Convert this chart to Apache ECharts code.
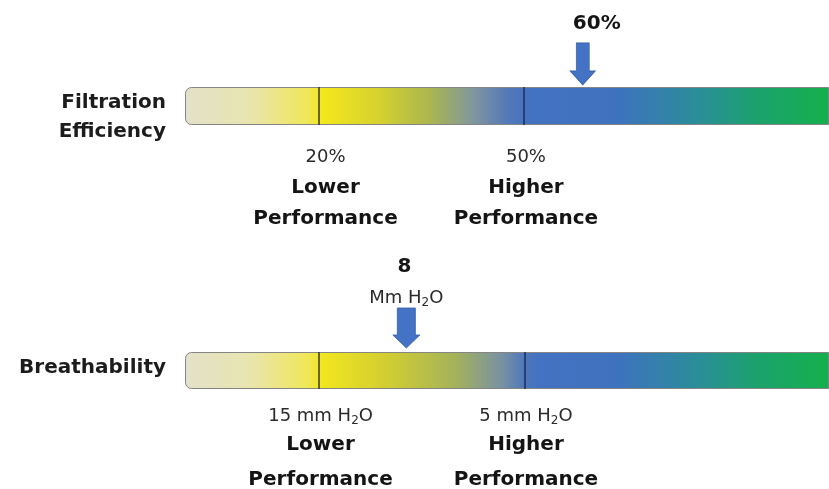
<!DOCTYPE html>
<html>
<head>
<meta charset="utf-8">
<script src="https://cdn.jsdelivr.net/npm/echarts@6/dist/echarts.min.js"></script>
<style>
html,body{margin:0;padding:0;background:#fff;}
#chart{width:829px;height:489px;}
</style>
</head>
<body>
<div id="chart"></div>
<script>
// ---- data (positions on a 0-100 scale along each bar) ----
const barNames = ['Filtration\nEfficiency', 'Breathability'];
const barLength = [100, 100];
const thresholdPos = [[20.74, 52.63], [20.74, 52.79]];
const thresholdValues = [['20%', '50%'], ['15 mm H_2O', '5 mm H_2O']];
const ratingLabels = ['Lower\nPerformance', 'Higher\nPerformance'];
const markerPos = [61.76, 34.37];
const markerValues = ['60%', '8'];
const markerUnits = ['', 'Mm H_2O'];

// ---- styling ----
const FONT = 'DejaVu Sans';
const gridTops = [87, 352];
const gridHeights = [38, 37];
const stopsList = [
  [[0,'#e3e1ca'],[0.10,'#e9e5b0'],[0.19,'#f0e758'],[0.213,'#f4e71c'],[0.30,'#d6d22e'],[0.38,'#abb64e'],[0.45,'#7f95a0'],[0.50,'#5579b8'],[0.53,'#4472c2'],[0.67,'#3e72bf'],[0.80,'#2a8e98'],[0.89,'#1ba26c'],[1,'#14b04c']],
  [[0,'#e3e1ca'],[0.10,'#e9e5b0'],[0.19,'#f0e758'],[0.213,'#f2e61e'],[0.32,'#cfcc34'],[0.42,'#a4b25a'],[0.49,'#7a92a2'],[0.53,'#4b76bc'],[0.55,'#4472c2'],[0.67,'#3e72bf'],[0.80,'#2a8e98'],[0.89,'#1ba26c'],[1,'#14b04c']]
];
const colDx = [[7, 2], [2, 1]];
const valueDy = [51, 45.5];
const ratingDy = [[82, 113], [74.5, 109.5]];
const arrowPaths = [
  'path://M6,0 L19,0 L19,28 L25,28 L12.5,42 L0,28 L6,28 Z',
  'path://M4.5,0 L22.5,0 L22.5,27 L27,27 L13.5,40 L0,27 L4.5,27 Z'
];
const arrowSizes = [[25, 42], [27, 40]];
const arrowOffsetY = [-42, -42.5];
const markerValueOff = [[14, -82], [-2, -103.5]];
const markerUnitOff = [[0, 0], [0, -72]];

const chart = echarts.init(document.getElementById('chart'), null, {renderer: 'canvas'});

// turn "H_2O" into rich text with a lowered, smaller "2"
function richText(txt) {
  return txt.split('_').map((part, k) => k === 0 ? '{n|' + part + '}' :
    '{s|' + part.charAt(0) + '}{n|' + part.slice(1) + '}').join('');
}

const grids = [], xAxes = [], yAxes = [], series = [];
barNames.forEach((name, i) => {
  grids.push({left: 185, width: 646, top: gridTops[i], height: gridHeights[i]});
  xAxes.push({type: 'value', gridIndex: i, min: 0, max: 100, show: false});
  yAxes.push({
    type: 'category', gridIndex: i, data: [name],
    axisLine: {show: false}, axisTick: {show: false}, splitLine: {show: false},
    axisLabel: {
      margin: 19,
      formatter: v => i === 0
        ? '{p| }\n' + v.split('\n').map(w => '{t|' + w + '}').join('\n')
        : v.split('\n').map(w => '{t|' + w + '}').join('\n') + '\n{q| }',
      rich: {
        t: {fontFamily: FONT, fontSize: 20, fontWeight: 'bold', color: '#1c1c1c', lineHeight: 29, align: 'right'},
        p: {fontSize: 10, lineHeight: 23},
        q: {fontSize: 4, lineHeight: 6}
      }
    }
  });
  series.push({
    type: 'bar', xAxisIndex: i, yAxisIndex: i, barWidth: '100%', silent: true,
    data: [barLength[i]],
    itemStyle: {
      color: new echarts.graphic.LinearGradient(0, 0, 1, 0,
        stopsList[i].map(s => ({offset: s[0], color: s[1]}))),
      borderColor: '#858585', borderWidth: 1, borderRadius: [6, 0, 0, 6], opacity: 1
    },
    markLine: {
      silent: true, symbol: ['none', 'none'], label: {show: false},
      lineStyle: {width: 1.5, type: 'solid'},
      data: thresholdPos[i].map((p, j) => ({
        xAxis: p, lineStyle: {color: j ? '#1e2c56' : '#3a392c', width: 1.5, type: 'solid', opacity: 1}
      }))
    }
  });
  series.push({
    type: 'scatter', xAxisIndex: i, yAxisIndex: i, clip: false, silent: true,
    symbol: arrowPaths[i], symbolSize: arrowSizes[i], symbolOffset: [0, arrowOffsetY[i]],
    itemStyle: {color: '#4472c4', borderColor: '#3560aa', borderWidth: 0.8, opacity: 1},
    data: [[markerPos[i], name]]
  });
  const texts = [];
  const mk = (x, txt, off, bold, size) => ({
    value: [x, name],
    label: {
      show: true, position: 'inside', offset: off, formatter: richText(txt),
      rich: {
        n: {fontFamily: FONT, fontSize: size, fontWeight: bold ? 'bold' : 'normal',
            color: bold ? '#141414' : '#2a2a2a', lineHeight: 24},
        s: {fontFamily: FONT, fontSize: Math.round(size * 0.68), color: '#2a2a2a',
            padding: [9, 0, 0, 0], lineHeight: 24}
      }
    }
  });
  thresholdPos[i].forEach((p, j) => {
    texts.push(mk(p, thresholdValues[i][j], [colDx[i][j], valueDy[i]], false, 18));
    ratingLabels[j].split('\n').forEach((w, k) => {
      texts.push(mk(p, w, [colDx[i][j], ratingDy[i][k]], true, 20));
    });
  });
  texts.push(mk(markerPos[i], markerValues[i], markerValueOff[i], true, 20));
  if (markerUnits[i]) texts.push(mk(markerPos[i], markerUnits[i], markerUnitOff[i], false, 18));
  series.push({
    type: 'scatter', xAxisIndex: i, yAxisIndex: i, clip: false, silent: true,
    symbol: 'circle', symbolSize: 1, itemStyle: {color: 'rgba(0,0,0,0)', opacity: 1},
    z: 10, data: texts
  });
});

chart.setOption({
  animation: false,
  backgroundColor: '#ffffff',
  grid: grids, xAxis: xAxes, yAxis: yAxes, series: series
});
</script>
</body>
</html>
